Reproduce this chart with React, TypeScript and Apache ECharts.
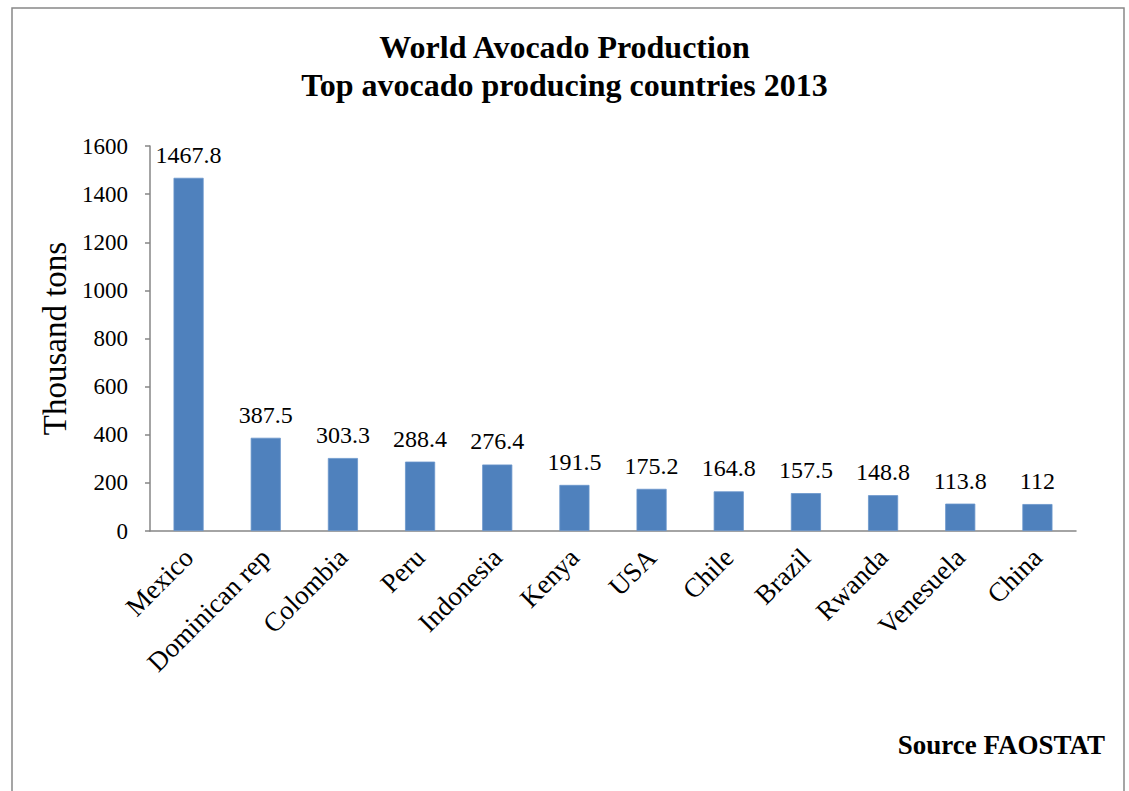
import React, { useEffect, useRef } from "react";
import * as echarts from "echarts";

const categories = ["Mexico", "Dominican rep", "Colombia", "Peru", "Indonesia", "Kenya", "USA", "Chile", "Brazil", "Rwanda", "Venesuela", "China"];
const production = [1467.8, 387.5, 303.3, 288.4, 276.4, 191.5, 175.2, 164.8, 157.5, 148.8, 113.8, 112];
const yTicks = { min: 0, max: 1600, interval: 200 };

const SERIF = "'Liberation Serif', 'Times New Roman', serif";

export default function App() {
  const ref = useRef<HTMLDivElement>(null);
  useEffect(() => {
    document.body.style.margin = "0";
    const chart = echarts.init(ref.current!, null, { renderer: "svg" });
    chart.setOption({
      animation: false,
      backgroundColor: "#fff",
      title: {
        text: "World Avocado Production\nTop avocado producing countries 2013",
        left: "center",
        top: 23,
        textStyle: { fontFamily: SERIF, fontSize: 32, fontWeight: "bold", color: "#000", lineHeight: 38 },
      },
      grid: { left: 150, right: 53, top: 146, bottom: 260, containLabel: false },
      xAxis: {
        type: "category",
        data: categories,
        axisLine: { lineStyle: { color: "#868686", width: 1.5 } },
        axisTick: { length: 8, lineStyle: { color: "#868686", width: 1.5 } },
        axisLabel: { interval: 0, rotate: 45, fontFamily: SERIF, fontSize: 27, color: "#000", margin: 22 },
      },
      yAxis: {
        type: "value",
        min: yTicks.min,
        max: yTicks.max,
        interval: yTicks.interval,
        name: "Thousand tons",
        nameLocation: "middle",
        nameGap: 77,
        nameTextStyle: { fontFamily: SERIF, fontSize: 33, color: "#000" },
        axisLine: { show: true, lineStyle: { color: "#868686", width: 1.5 } },
        axisTick: { show: true, length: 5, lineStyle: { color: "#868686", width: 1.5 } },
        splitLine: { show: false },
        axisLabel: {
          fontFamily: SERIF,
          fontSize: 23,
          color: "#000",
          margin: 22,
          formatter: (v: number) => String(v),
        },
      },
      series: [
        {
          type: "bar",
          data: production,
          barWidth: "39%",
          itemStyle: { color: "#4F81BD", borderColor: "#6A96CC", borderWidth: 0.8 },
          label: { show: true, position: "top", distance: 11, fontFamily: SERIF, fontSize: 24, color: "#000" },
        },
      ],
      graphic: [
        {
          type: "rect",
          shape: { x: 12, y: 8, width: 1112, height: 820 },
          style: { fill: "none", stroke: "#888", lineWidth: 1.5 },
          silent: true,
        },
        {
          type: "text",
          right: 24,
          top: 731,
          style: { text: "Source FAOSTAT", fontFamily: SERIF, fontSize: 27, fontWeight: "bold", fill: "#000" },
        },
      ],
    });
    return () => chart.dispose();
  }, []);
  return <div ref={ref} style={{ width: 1129, height: 791 }} />;
}
